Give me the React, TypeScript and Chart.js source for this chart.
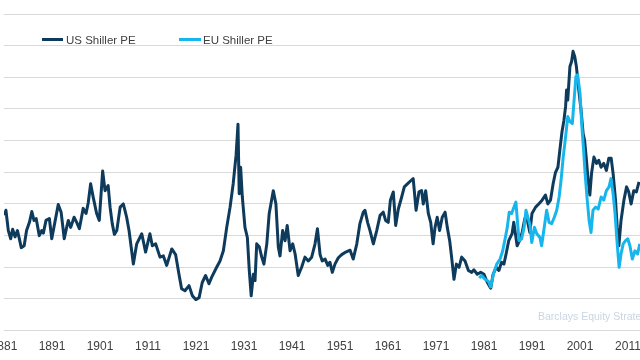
import React, { useEffect, useRef } from "react";
import { Chart, registerables } from "chart.js";

Chart.register(...registerables);

// ---- data ----
const tickYears = [1881, 1891, 1901, 1911, 1921, 1931, 1941, 1951, 1961, 1971, 1981, 1991, 2001, 2011];
const yTicks = [0, 5, 10, 15, 20, 25, 30, 35, 40, 45, 50];

const usYears = [
  1881.1, 1881.4, 1881.9, 1882.4, 1882.8, 1883.3, 1883.8, 1884.2, 1884.6, 1885.2,
  1885.7, 1886.3, 1886.8, 1887.25, 1887.7, 1888.35, 1888.85, 1889.2, 1889.75, 1890.45,
  1890.95, 1891.6, 1892.3, 1892.9, 1893.55, 1894.05, 1894.4, 1894.9, 1895.6, 1896.15,
  1896.7, 1897.5, 1898.1, 1898.55, 1899.05, 1899.6, 1900.3, 1900.85, 1901.55, 1902.05,
  1902.7, 1903.1, 1903.55, 1904.0, 1904.5, 1905.2, 1905.85, 1906.2, 1906.55, 1907.05,
  1907.95, 1908.65, 1909.7, 1910.5, 1911.4, 1911.9, 1912.6, 1913.5, 1914.2, 1914.9,
  1915.95, 1916.75, 1917.45, 1918.0, 1918.7, 1919.55, 1920.25, 1920.95, 1921.65, 1922.3,
  1923.0, 1923.7, 1924.25, 1925.3, 1926.0, 1926.7, 1927.4, 1928.1, 1928.75, 1929.35,
  1929.75, 1930.0, 1930.3, 1930.65, 1931.2, 1931.7, 1932.1, 1932.5, 1932.95, 1933.3,
  1933.65, 1934.2, 1934.7, 1935.15, 1935.75, 1936.25, 1937.1, 1937.65, 1938.15, 1938.5,
  1939.05, 1939.55, 1940.0, 1940.6, 1941.15, 1941.65, 1942.3, 1943.0, 1943.7, 1944.4,
  1945.1, 1945.8, 1946.3, 1946.85, 1947.3, 1947.9, 1948.45, 1948.9, 1949.4, 1949.95,
  1950.65, 1951.35, 1952.2, 1953.1, 1953.75, 1954.5, 1955.15, 1955.85, 1956.2, 1956.75,
  1957.25, 1957.95, 1958.65, 1959.35, 1960.0, 1960.5, 1961.05, 1961.5, 1962.1, 1962.6,
  1963.15, 1963.85, 1964.4, 1965.1, 1965.8, 1966.25, 1966.85, 1967.45, 1968.0, 1968.35,
  1968.85, 1969.4, 1969.9, 1970.4, 1970.8, 1971.25, 1971.75, 1972.3, 1972.9, 1973.35,
  1973.85, 1974.25, 1974.75, 1975.25, 1975.8, 1976.35, 1977.05, 1977.75, 1978.45, 1978.9,
  1979.6, 1980.3, 1981.0, 1981.7, 1982.4, 1982.9, 1983.55, 1984.1, 1984.65, 1985.15,
  1985.6, 1986.15, 1986.85, 1987.2, 1987.55, 1987.9, 1988.4, 1988.95, 1989.5, 1990.0,
  1990.55, 1991.0, 1991.75, 1992.4, 1993.1, 1993.8, 1994.3, 1994.85, 1995.4, 1995.9,
  1996.4, 1996.8, 1997.25, 1997.65, 1998.0, 1998.2, 1998.45, 1998.9, 1999.25, 1999.55,
  1999.9, 2000.25, 2000.75, 2001.25, 2001.65, 2001.95, 2002.35, 2002.7, 2003.05, 2003.4,
  2003.9, 2004.45, 2004.9, 2005.4, 2005.95, 2006.5, 2007.0, 2007.5, 2007.9, 2008.4,
  2008.75, 2009.1, 2009.55, 2010.15, 2010.7, 2011.15, 2011.65, 2012.2, 2012.75, 2013.3,
];
const usValues = [
  18.2, 19.0, 15.8, 14.5, 16.0, 14.8, 15.8, 14.5, 13.1, 13.4,
  15.8, 17.1, 18.8, 17.4, 17.7, 15.0, 15.8, 15.4, 17.4, 17.7,
  14.5, 17.1, 19.9, 18.7, 14.5, 16.3, 17.4, 16.3, 17.9, 17.1,
  16.1, 19.3, 18.5, 20.2, 23.2, 21.0, 18.5, 17.4, 25.2, 22.1,
  22.9, 19.5, 16.9, 15.2, 15.8, 19.5, 20.0, 19.0, 17.9, 15.8,
  10.5, 13.7, 15.3, 12.4, 15.3, 13.4, 13.7, 11.6, 11.8, 10.3,
  12.9, 12.0, 8.9, 6.6, 6.3, 7.1, 5.5, 4.9, 5.2, 7.6,
  8.7, 7.4, 8.4, 10.0, 11.0, 12.6, 16.3, 19.5, 23.2, 27.7,
  32.6, 21.6, 25.8, 21.1, 16.3, 14.7, 9.5, 5.5, 8.9, 7.9,
  13.7, 13.2, 11.6, 10.5, 13.7, 18.5, 22.1, 20.0, 13.2, 11.8,
  15.8, 14.2, 16.6, 12.6, 13.7, 12.1, 8.7, 10.0, 11.6, 11.0,
  11.6, 13.7, 16.1, 12.0, 11.0, 11.3, 10.3, 10.8, 9.2, 10.5,
  11.5, 12.0, 12.4, 12.7, 11.3, 13.7, 16.9, 18.7, 19.0, 17.1,
  15.8, 13.7, 15.8, 18.2, 18.7, 17.4, 17.1, 20.6, 21.9, 16.6,
  19.2, 21.1, 22.7, 23.2, 23.7, 24.0, 19.0, 21.9, 22.1, 20.0,
  22.1, 18.5, 17.1, 13.7, 16.3, 17.9, 15.8, 17.9, 18.7, 16.3,
  14.2, 11.6, 8.1, 10.5, 10.0, 11.6, 11.0, 9.5, 9.2, 9.6,
  8.9, 9.2, 8.9, 7.6, 6.7, 8.9, 10.0, 9.5, 10.8, 10.5,
  12.1, 14.2, 15.3, 17.1, 15.3, 13.4, 14.2, 15.5, 17.7, 17.5,
  15.5, 18.5, 19.5, 20.0, 20.6, 21.4, 20.0, 20.6, 23.2, 25.0,
  25.8, 28.5, 31.4, 33.2, 35.4, 38.0, 36.4, 41.7, 42.5, 44.1,
  43.3, 41.7, 38.0, 34.6, 31.1, 30.1, 26.9, 23.7, 21.4, 24.8,
  27.4, 26.4, 26.9, 25.8, 26.4, 25.3, 27.2, 27.2, 24.8, 20.6,
  16.3, 13.4, 17.4, 20.6, 22.7, 21.9, 20.0, 22.1, 21.9, 23.5,
];

const euYears = [
  1980.0, 1980.5, 1981.2, 1981.9, 1982.4, 1982.95, 1983.65, 1984.35, 1984.9, 1985.4,
  1985.85, 1986.25, 1986.75, 1987.25, 1987.65, 1987.95, 1988.3, 1988.85, 1989.35, 1989.75,
  1990.25, 1990.6, 1990.95, 1991.5, 1992.0, 1992.65, 1993.0, 1993.55, 1994.05, 1994.55,
  1995.1, 1995.65, 1996.15, 1996.65, 1997.05, 1997.5, 1998.0, 1998.45, 1998.9, 1999.4,
  1999.8, 2000.15, 2000.5, 2001.0, 2001.35, 2001.75, 2002.05, 2002.45, 2002.9, 2003.3,
  2003.7, 2004.25, 2004.8, 2005.4, 2005.95, 2006.5, 2007.05, 2007.45, 2007.9, 2008.3,
  2008.7, 2009.15, 2009.55, 2010.0, 2010.5, 2010.95, 2011.4, 2011.9, 2012.45, 2013.0,
  2013.45,
];
const euValues = [
  8.3, 8.7, 8.1, 7.8, 6.9, 8.9, 10.5, 11.3, 12.6, 14.5,
  16.3, 18.7, 18.5, 19.5, 20.3, 17.4, 14.2, 14.5, 16.3, 19.0,
  17.6, 16.6, 13.9, 16.3, 15.3, 14.7, 13.4, 16.3, 19.0, 17.1,
  16.9, 17.9, 19.0, 21.1, 23.7, 27.4, 30.6, 33.8, 33.0, 32.7,
  36.7, 40.1, 40.4, 37.5, 32.7, 28.5, 25.0, 21.1, 17.4, 15.5,
  19.0, 19.5, 19.2, 21.1, 20.6, 22.1, 22.7, 24.0, 21.6, 18.5,
  14.2, 10.0, 12.1, 13.7, 14.2, 14.5, 13.4, 11.3, 12.6, 12.1,
  13.7,
];

const US_COLOR = "#0e3a5c";
const EU_COLOR = "#16b6ec";
const TEXT_COLOR = "#404040";
const GRID_COLOR = "#d9d9d9";
const FONT = "'Liberation Sans', Arial, sans-serif";

export default function App() {
  const ref = useRef<HTMLCanvasElement>(null);

  useEffect(() => {
    if (!ref.current) return;
    const chart = new Chart(ref.current, {
      type: "line",
      data: {
        datasets: [
          {
            label: "EU Shiller PE",
            data: euYears.map((x, i) => ({ x, y: euValues[i] })),
            borderColor: EU_COLOR,
            backgroundColor: EU_COLOR,
            borderWidth: 3,
            pointRadius: 0,
            tension: 0,
            borderJoinStyle: "round",
            order: 0,
          },
          {
            label: "US Shiller PE",
            data: usYears.map((x, i) => ({ x, y: usValues[i] })),
            borderColor: US_COLOR,
            backgroundColor: US_COLOR,
            borderWidth: 3,
            pointRadius: 0,
            tension: 0,
            borderJoinStyle: "round",
            order: 1,
          },
        ],
      },
      options: {
        animation: false,
        responsive: false,
        maintainAspectRatio: false,
        layout: { padding: { left: 64, top: 14, right: 0, bottom: 7 } },
        plugins: { legend: { display: false }, tooltip: { enabled: false } },
        scales: {
          x: {
            type: "linear",
            min: 1881,
            max: 2026,
            grid: { display: false, drawTicks: false },
            border: { display: false },
            afterBuildTicks: (scale: any) => {
              scale.ticks = tickYears.map((v) => ({ value: v }));
            },
            ticks: {
              autoSkip: false,
              maxRotation: 0,
              padding: 9,
              color: TEXT_COLOR,
              font: { family: FONT, size: 12 },
              callback: (v: any) => String(v),
            },
          },
          y: {
            type: "linear",
            min: 0,
            max: 50,
            afterBuildTicks: (scale: any) => {
              scale.ticks = yTicks.map((v) => ({ value: v }));
            },
            ticks: { display: false },
            grid: { color: GRID_COLOR, lineWidth: 1, drawTicks: false },
            border: { display: false },
          },
        },
      },
    });
    return () => chart.destroy();
  }, []);

  const legendText: React.CSSProperties = {
    position: "absolute",
    fontFamily: FONT,
    fontSize: "11.5px",
    lineHeight: "14px",
    color: TEXT_COLOR,
    whiteSpace: "nowrap",
  };

  return (
    <div
      style={{
        position: "fixed",
        left: 0,
        top: 0,
        width: 640,
        height: 360,
        overflow: "hidden",
        background: "#ffffff",
      }}
    >
      <canvas
        ref={ref}
        width={760}
        height={370}
        style={{ position: "absolute", left: -60, top: 0, width: 760, height: 370, display: "block" }}
      />
      <div style={{ position: "absolute", left: 42, top: 37.5, width: 21, height: 3, background: US_COLOR }} />
      <div style={{ ...legendText, left: 66, top: 33 }}>US Shiller PE</div>
      <div style={{ position: "absolute", left: 179, top: 37.5, width: 22, height: 3, background: EU_COLOR }} />
      <div style={{ ...legendText, left: 203, top: 33 }}>EU Shiller PE</div>
      <div
        style={{
          position: "absolute",
          left: 538,
          top: 310,
          fontFamily: FONT,
          fontSize: "10.5px",
          lineHeight: "12px",
          color: "#c9d6e3",
          whiteSpace: "nowrap",
        }}
      >
        Barclays Equity Strategy
      </div>
    </div>
  );
}
